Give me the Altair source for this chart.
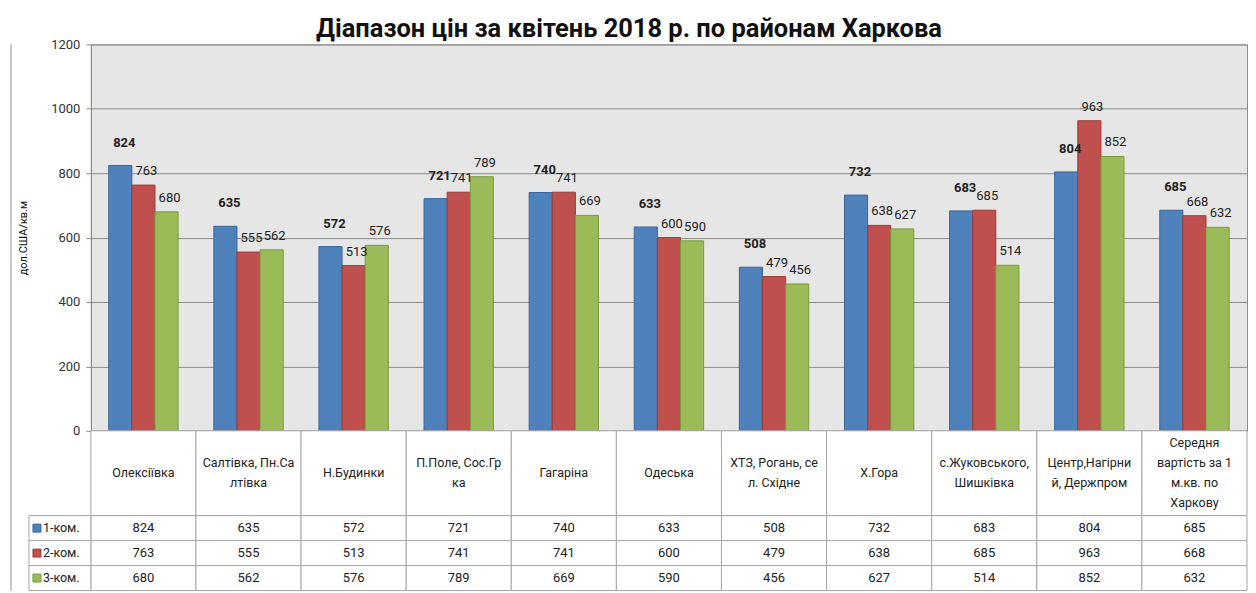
import altair as alt
import pandas as pd

FONT = "Roboto"

districts = ["Олексіївка", "Салтівка, Пн.Салтівка", "Н.Будинки", "П.Поле, Сос.Грка",
             "Гагаріна", "Одеська", "ХТЗ, Рогань, сел. Східне", "Х.Гора",
             "с.Жуковського, Шишківка", "Центр,Нагірний, Держпром",
             "Середня вартість за 1 м.кв. по Харкову"]
header_labels = ["Олексіївка", "Салтівка, Пн.Са\nлтівка", "Н.Будинки", "П.Поле, Сос.Гр\nка",
                 "Гагаріна", "Одеська", "ХТЗ, Рогань, се\nл. Східне", "Х.Гора",
                 "с.Жуковського,\nШишківка", "Центр,Нагірни\nй, Держпром",
                 "Середня\nвартість за 1\nм.кв. по\nХаркову"]
series = ["1-ком.", "2-ком.", "3-ком."]
v1 = [824, 635, 572, 721, 740, 633, 508, 732, 683, 804, 685]
v2 = [763, 555, 513, 741, 741, 600, 479, 638, 685, 963, 668]
v3 = [680, 562, 576, 789, 669, 590, 456, 627, 514, 852, 632]
y_ticks = [0, 200, 400, 600, 800, 1000, 1200]

colors = ["#4f81bd", "#c0504d", "#9bbb59"]
strokes = ["#3a6699", "#9b3b38", "#7a9a3c"]

rows = []
for s, vals in zip(series, [v1, v2, v3]):
    for d, v in zip(districts, vals):
        rows.append({"district": d, "series": s, "value": v})
df = pd.DataFrame(rows)
hdr_df = pd.DataFrame({"district": districts, "label": header_labels})
ser_df = pd.DataFrame({"series": series})

W = 1158
H = 387
BORDER = "#c8c8c8"
GRID = "#8c8c8c"
CELL = "#a6a6a6"

# ---------- top: bar chart ----------
x_top = alt.X("district:N", sort=districts, axis=None,
              scale=alt.Scale(paddingInner=0.34, paddingOuter=0.17))
xoff = alt.XOffset("series:N", sort=series, scale=alt.Scale(paddingInner=0, paddingOuter=0))
y_top = alt.Y("value:Q", scale=alt.Scale(domain=[0, 1200], nice=False),
              axis=alt.Axis(values=y_ticks, format="d", title="дол.США/кв.м", grid=True,
                            gridColor=GRID, gridWidth=1, domainColor=GRID,
                            tickColor=GRID, tickSize=5, labelFont=FONT, labelFontSize=13,
                            labelColor="#333333", labelPadding=6, titleFont=FONT,
                            titleFontSize=11, titleFontWeight="normal", titleColor="#111111",
                            titlePadding=22))
color = alt.Color("series:N", scale=alt.Scale(domain=series, range=colors), legend=None)
stroke = alt.Stroke("series:N", scale=alt.Scale(domain=series, range=strokes), legend=None)

bars = alt.Chart(df).mark_bar(strokeWidth=1).encode(
    x=x_top, xOffset=xoff, y=y_top, color=color, stroke=stroke)

lbl1 = alt.Chart(df).transform_filter(alt.datum.series == series[0]).mark_text(
    font=FONT, fontSize=13, fontWeight="bold", color="#222222", baseline="bottom",
    dy=-16, dx=4).encode(x=x_top, xOffset=xoff, y="value:Q", text="value:Q")
lbl23 = alt.Chart(df).transform_filter(alt.datum.series != series[0]).mark_text(
    font=FONT, fontSize=13, color="#222222", baseline="bottom",
    dy=-7, dx=3).encode(x=x_top, xOffset=xoff, y="value:Q", text="value:Q")

edge_top = alt.Chart(ser_df).mark_rule(color=BORDER, strokeWidth=1.5).encode(
    x=alt.value(-80), y=alt.value(0), y2=alt.value(H))

top = alt.layer(edge_top, bars, lbl1, lbl23).properties(
    width=W, height=H,
    view=alt.ViewBackground(fill="#e6e6e6", stroke=GRID),
    title=alt.TitleParams("Діапазон цін за квітень 2018 р. по районам Харкова",
                          font=FONT, fontSize=25.5, fontWeight="bold", color="#111111",
                          anchor="middle", dx=-40, offset=-4))

# ---------- header row of the data table ----------
hx = alt.X("district:N", sort=districts, axis=None,
           scale=alt.Scale(paddingInner=0, paddingOuter=0))
HH = 85
LH = 20
hdr_rect = alt.Chart(hdr_df).mark_rect(fill="white", stroke=CELL, strokeWidth=1).encode(
    x=hx, y=alt.value(0), y2=alt.value(HH))
hdr_text = alt.Chart(hdr_df).transform_calculate(
    nlines="length(split(datum.label, '\\n'))"
).transform_calculate(
    ty=f"{HH / 2} - (datum.nlines - 1) * {LH / 2}"
).mark_text(font=FONT, fontSize=12.5, lineBreak="\n", lineHeight=LH,
            baseline="middle", color="#222222").encode(
    x=hx,
    y=alt.Y("ty:Q", scale=alt.Scale(domain=[0, HH], range=[0, HH]), axis=None),
    text="label:N")
edge_hdr = alt.Chart(ser_df).mark_rule(color=BORDER, strokeWidth=1.5).encode(
    x=alt.value(-80), y=alt.value(0), y2=alt.value(HH))
header = alt.layer(edge_hdr, hdr_rect, hdr_text).properties(
    width=W, height=HH, view=alt.ViewBackground(fill=None, stroke=None))

# ---------- values table ----------
TH = 75
ty = alt.Y("series:N", sort=series, axis=None,
           scale=alt.Scale(paddingInner=0, paddingOuter=0))
cells = alt.Chart(df).mark_rect(fill="white", stroke=CELL, strokeWidth=1).encode(
    x=hx, y=ty)
cell_text = alt.Chart(df).mark_text(font=FONT, fontSize=13, color="#222222",
                                    baseline="middle").encode(
    x=hx, y=ty, text="value:Q")
leg_rect = alt.Chart(ser_df).mark_rect(fill="white", stroke=CELL, strokeWidth=1).encode(
    x=alt.value(-62), x2=alt.value(0), y=ty)
leg_sq = alt.Chart(ser_df).mark_square(size=64, opacity=1, strokeWidth=1).encode(
    x=alt.value(-54), y=ty,
    fill=alt.Fill("series:N", scale=alt.Scale(domain=series, range=colors), legend=None),
    stroke=alt.Stroke("series:N", scale=alt.Scale(domain=series, range=strokes), legend=None))
leg_text = alt.Chart(ser_df).mark_text(font=FONT, fontSize=12.5, color="#222222",
                                       align="left", baseline="middle").encode(
    x=alt.value(-48), y=ty, text="series:N")
edge_tbl = alt.Chart(ser_df).mark_rule(color=BORDER, strokeWidth=1.5).encode(
    x=alt.value(-80), y=alt.value(0), y2=alt.value(TH))
table = alt.layer(edge_tbl, cells, cell_text, leg_rect, leg_sq, leg_text).properties(
    width=W, height=TH, view=alt.ViewBackground(fill=None, stroke=None))

chart = alt.vconcat(top, header, table, spacing=0, bounds="flush").resolve_scale(
    x="independent", y="independent", color="independent", stroke="independent",
    fill="independent").properties(
    padding={"left": 1, "top": 8, "right": 0, "bottom": 0},
    background="white")

chart.save("out.html", embed_options={"renderer": "svg", "actions": False})
